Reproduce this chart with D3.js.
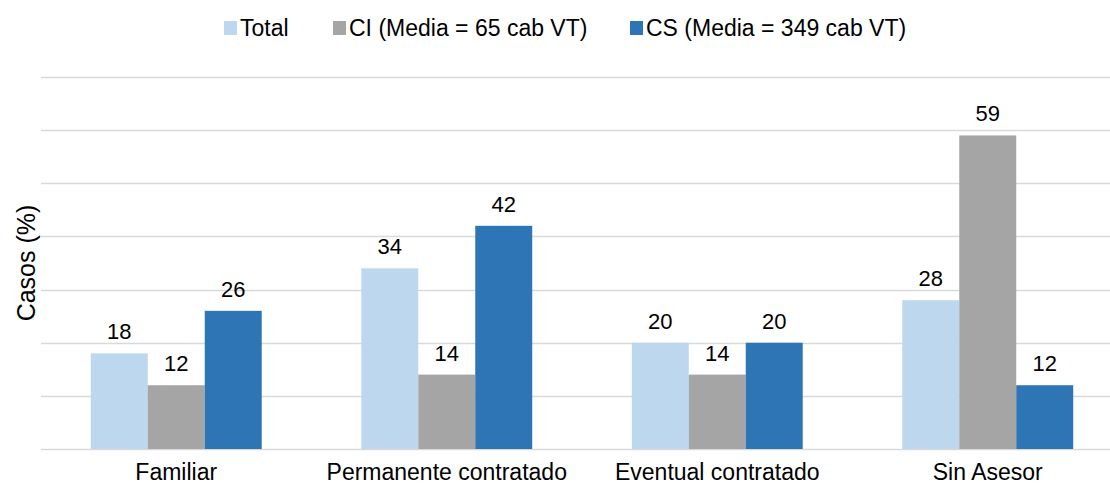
<!DOCTYPE html>
<html lang="es">
<head>
    <meta charset="UTF-8" />
    <title>Casos (%) por tipo de asesor</title>
    <script src="https://d3js.org/d3.v7.min.js"></script>
    <style>
        body { margin: 0; background: #fff; }
        text { font-family: "Liberation Sans", Arial, sans-serif; fill: #000; }
    </style>
</head>
<body>
    <script>
        var categories = ["Familiar", "Permanente contratado", "Eventual contratado", "Sin Asesor"];
        var seriesNames = ["Total", "CI (Media = 65 cab VT)", "CS (Media = 349 cab VT)"];
        var totalValues = [18, 34, 20, 28];
        var ciValues = [12, 14, 14, 59];
        var csValues = [26, 42, 20, 12];
        var yTicks = [0, 10, 20, 30, 40, 50, 60, 70];
        var colors = ["#BDD7EE", "#A5A5A5", "#2E75B6"];

        var w = 1110;
        var h = 486;

        var series = [totalValues, ciValues, csValues];

        var svg = d3.select("body")
            .append("svg")
            .attr("width", w)
            .attr("height", h);

        var x0 = d3.scaleBand()
            .domain(categories)
            .range([41, 1123])
            .paddingInner(0.368)
            .paddingOuter(0.184);

        var x1 = d3.scaleBand()
            .domain(d3.range(series.length))
            .range([0, x0.bandwidth()]);

        var y = d3.scaleLinear()
            .domain([0, 70])
            .range([449, 77]);

        // gridlines
        svg.selectAll("line.grid")
            .data(yTicks)
            .enter()
            .append("line")
            .attr("class", "grid")
            .attr("x1", 41)
            .attr("x2", w)
            .attr("y1", function (d) { return Math.round(y(d)) + 0.5; })
            .attr("y2", function (d) { return Math.round(y(d)) + 0.5; })
            .attr("stroke", "#D9D9D9")
            .attr("stroke-width", 1.3);

        // bars
        var groups = svg.selectAll("g.cat")
            .data(categories)
            .enter()
            .append("g")
            .attr("class", "cat")
            .attr("transform", function (d) { return "translate(" + x0(d) + ",0)"; });

        groups.selectAll("rect")
            .data(function (d, i) {
                return series.map(function (s, j) { return { s: j, v: s[i] }; });
            })
            .enter()
            .append("rect")
            .attr("x", function (d) { return x1(d.s); })
            .attr("width", x1.bandwidth())
            .attr("y", function (d) { return y(d.v); })
            .attr("height", function (d) { return y(0) - y(d.v); })
            .attr("fill", function (d) { return colors[d.s]; });

        groups.selectAll("text.val")
            .data(function (d, i) {
                return series.map(function (s, j) { return { s: j, v: s[i] }; });
            })
            .enter()
            .append("text")
            .attr("class", "val")
            .attr("x", function (d) { return x1(d.s) + x1.bandwidth() / 2; })
            .attr("y", function (d) { return y(d.v) - 14; })
            .attr("text-anchor", "middle")
            .attr("font-size", "22px")
            .text(function (d) { return d.v; });

        // category axis labels
        svg.selectAll("text.cat")
            .data(categories)
            .enter()
            .append("text")
            .attr("class", "cat")
            .attr("x", function (d) { return x0(d) + x0.bandwidth() / 2; })
            .attr("y", 480)
            .attr("text-anchor", "middle")
            .attr("font-size", "23px")
            .text(function (d) { return d; });

        // y axis title
        svg.append("text")
            .attr("transform", "translate(35,263) rotate(-90)")
            .attr("text-anchor", "middle")
            .attr("font-size", "25px")
            .text("Casos (%)");

        // legend
        var legendX = [224, 333, 630];
        var legend = svg.selectAll("g.leg")
            .data(seriesNames)
            .enter()
            .append("g")
            .attr("class", "leg")
            .attr("transform", function (d, i) { return "translate(" + legendX[i] + ",0)"; });

        legend.append("rect")
            .attr("x", 0)
            .attr("y", 21)
            .attr("width", 13)
            .attr("height", 14)
            .attr("fill", function (d, i) { return colors[i]; });

        legend.append("text")
            .attr("x", 16)
            .attr("y", 36)
            .attr("font-size", "23px")
            .text(function (d) { return d; });
    </script>
</body>
</html>
